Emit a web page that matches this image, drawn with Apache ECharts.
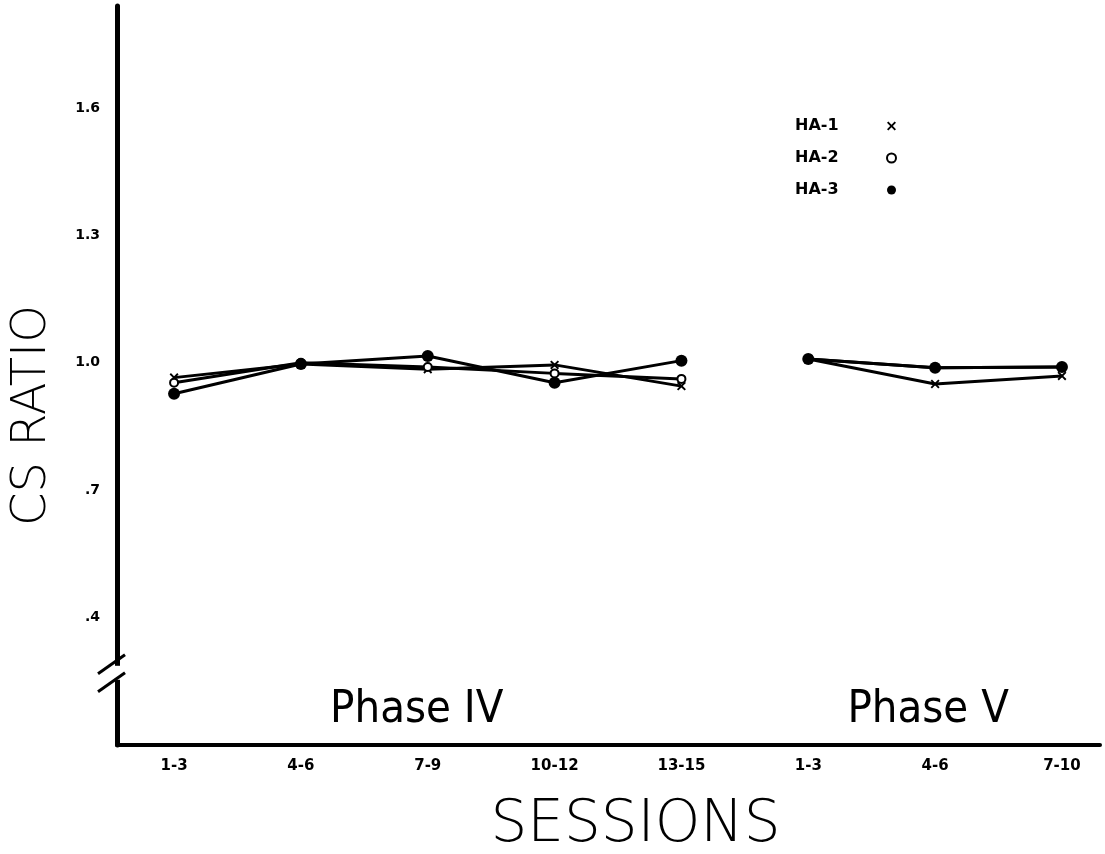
<!DOCTYPE html>
<html>
<head>
<meta charset="utf-8">
<script src="https://cdn.jsdelivr.net/npm/echarts@6/dist/echarts.min.js"></script>
<style>
  html, body { margin: 0; padding: 0; background: #fff; }
  #chart { width: 1105px; height: 854px; }
</style>
</head>
<body>
<div id="chart"></div>
<script>
// session blocks, phase IV then phase V
var sessions = ['1-3', '4-6', '7-9', '10-12', '13-15', '1-3', '4-6', '7-10'];
var phase4Count = 5;

// CS ratio per animal, one value per session block
var ha1 = [0.965, 0.997, 0.985, 0.995, 0.945, 1.009, 0.950, 0.969];
var ha2 = [0.953, 1.000, 0.990, 0.975, 0.962, 1.009, 0.988, 0.990];
var ha3 = [0.927, 0.997, 1.016, 0.953, 1.005, 1.009, 0.988, 0.990];

var yTicks = [0.4, 0.7, 1.0, 1.3, 1.6];
var breakAt = 0.27;

var crossPath = 'path://M0,1.5 L1.5,0 L5,3.5 L8.5,0 L10,1.5 L6.5,5 L10,8.5 L8.5,10 L5,6.5 L1.5,10 L0,8.5 L3.5,5 Z';

function pairs(values, from, to) {
    var out = [];
    for (var i = from; i < to; i++) {
        out.push([i, values[i]]);
    }
    return out;
}

function makeSeries(name, values, symbol, size) {
    var list = [];
    var parts = [[0, phase4Count], [phase4Count, sessions.length]];
    for (var p = 0; p < parts.length; p++) {
        list.push({
            name: name,
            type: 'line',
            data: pairs(values, parts[p][0], parts[p][1]),
            symbol: symbol,
            symbolSize: size,
            showAllSymbol: true,
            lineStyle: { color: '#000', width: 3 },
            itemStyle: { color: '#000', borderColor: '#000', borderWidth: symbol == 'emptyCircle' ? 3 : 0 },
            emphasis: { disabled: true },
            animation: false
        });
    }
    return list;
}

var chart = echarts.init(document.getElementById('chart'));

var legendFont = { fontFamily: 'DejaVu Sans', fontWeight: 'bold', fontSize: 16, color: '#000' };
var legendNames = ['HA-1', 'HA-2', 'HA-3'];

var option = {
    backgroundColor: '#fff',
    grid: { left: 117, right: 5, top: 6, bottom: 109, outerBoundsMode: 'none', containLabel: false },
    legend: [
        {
            // names
            orient: 'vertical',
            left: 785,
            top: 113,
            itemGap: 16,
            itemWidth: 0,
            itemHeight: 9,
            icon: 'none',
            selectedMode: false,
            textStyle: legendFont,
            data: legendNames
        },
        {
            // symbols
            orient: 'vertical',
            left: 881,
            top: 113,
            itemGap: 16,
            itemWidth: 9,
            itemHeight: 9,
            selectedMode: false,
            formatter: function () { return ' '; },
            textStyle: legendFont,
            data: [
                { name: 'HA-1', icon: crossPath, itemStyle: { color: '#000', borderWidth: 0 } },
                { name: 'HA-2', icon: 'emptyCircle', itemStyle: { color: '#000', borderColor: '#000', borderWidth: 2.5 } },
                { name: 'HA-3', icon: 'circle', itemStyle: { color: '#000', borderWidth: 0 } }
            ]
        }
    ],
    xAxis: {
        type: 'value',
        min: -0.45,
        max: 7.3,
        interval: 0.05,
        name: 'SESSIONS',
        nameLocation: 'middle',
        nameGap: 52,
        nameTextStyle: { fontFamily: 'DejaVu Sans', fontWeight: 200, fontSize: 58, color: '#000', padding: [0, 0, 0, 54] },
        axisLine: { onZero: false, lineStyle: { color: '#000', width: 4 } },
        axisTick: { show: false },
        splitLine: { show: false },
        axisLabel: {
            margin: 14,
            color: '#000',
            fontFamily: 'DejaVu Sans',
            fontWeight: 'bold',
            fontSize: 15,
            formatter: function (v) {
                var i = Math.round(v);
                if (Math.abs(v - i) > 1e-6 || i < 0 || i >= sessions.length) return '';
                return sessions[i];
            }
        }
    },
    yAxis: {
        type: 'value',
        min: 0.1,
        max: 1.84,
        interval: 0.1,
        name: 'CS RATIO',
        nameLocation: 'middle',
        nameGap: 60,
        nameRotate: 90,
        nameTextStyle: { fontFamily: 'DejaVu Sans', fontWeight: 200, fontSize: 48, color: '#000', padding: [0, 80, 0, 0] },
        axisLine: { show: true, onZero: false, lineStyle: { color: '#000', width: 5 } },
        axisTick: { show: false },
        splitLine: { show: false },
        axisLabel: {
            margin: 17,
            color: '#000',
            fontFamily: 'DejaVu Sans',
            fontWeight: 'bold',
            fontSize: 14,
            formatter: function (v) {
                for (var k = 0; k < yTicks.length; k++) {
                    if (Math.abs(v - yTicks[k]) < 1e-6) {
                        return v >= 1 ? v.toFixed(1) : '.' + Math.round(v * 10);
                    }
                }
                return '';
            }
        }
    },
    series: [].concat(
        makeSeries('HA-1', ha1, crossPath, 9),
        makeSeries('HA-2', ha2, 'emptyCircle', 8),
        makeSeries('HA-3', ha3, 'circle', 12)
    )
};

chart.setOption(option);

// axis break marks and phase captions, placed from the scales
var bp = chart.convertToPixel({ xAxisIndex: 0, yAxisIndex: 0 }, [-0.45, breakAt]);
var p4 = chart.convertToPixel({ xAxisIndex: 0, yAxisIndex: 0 }, [2, breakAt]);
var p5 = chart.convertToPixel({ xAxisIndex: 0, yAxisIndex: 0 }, [6, breakAt]);
var bx = bp[0], by = bp[1];

chart.setOption({
    graphic: [
        { type: 'rect', shape: { x: bx - 5, y: by - 7, width: 10, height: 14 }, style: { fill: '#fff' }, z: 100 },
        { type: 'line', shape: { x1: bx - 19, y1: by + 1, x2: bx + 8, y2: by - 18 }, style: { stroke: '#000', lineWidth: 3 }, z: 101 },
        { type: 'line', shape: { x1: bx - 19, y1: by + 19, x2: bx + 8, y2: by }, style: { stroke: '#000', lineWidth: 3 }, z: 101 },
        { type: 'text', x: p4[0] - 11, y: p4[1] + 38, style: { text: 'Phase IV', fill: '#000', font: '45px "DejaVu Sans Condensed"', textAlign: 'center', textVerticalAlign: 'middle' } },
        { type: 'text', x: p5[0] - 7, y: p5[1] + 38, style: { text: 'Phase V', fill: '#000', font: '45px "DejaVu Sans Condensed"', textAlign: 'center', textVerticalAlign: 'middle' } }
    ]
});
</script>
</body>
</html>
